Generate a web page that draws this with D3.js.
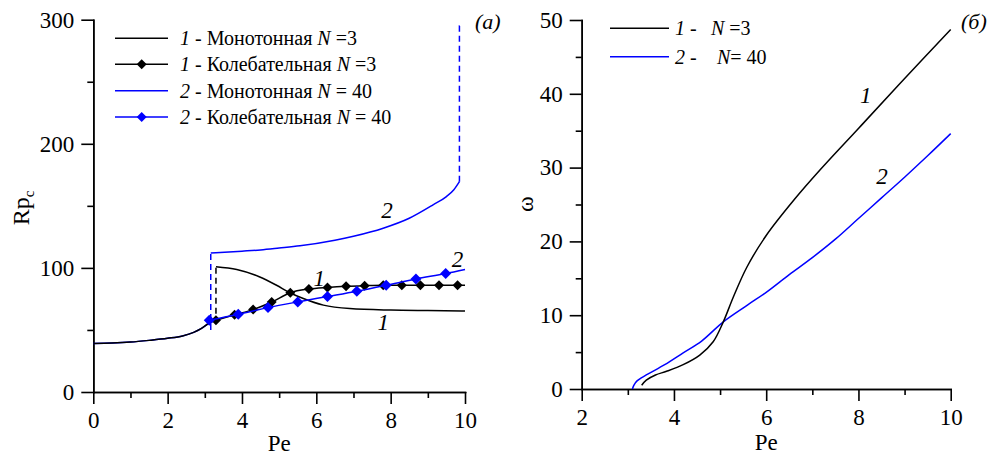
<!DOCTYPE html>
<html>
<head>
<meta charset="utf-8">
<script src="https://cdn.jsdelivr.net/npm/d3@7"></script>
<style>
  html, body { margin: 0; padding: 0; background: #fff; }
</style>
</head>
<body>
<svg id="chart" width="991" height="457"></svg>
<script>
// ---------- Panel (a): critical Rp_c versus Pe ----------
// N = 3, monotonic instability (branch before and after the jump)
const monoN3Low  = [[0,39],[0.5,39.4],[1,40.2],[1.5,41.6],[2,43.3],[2.4,45.2],[2.7,48],[2.9,51],[3.1,55.2],[3.3,58]];
const monoN3High = [[3.3,101],[3.86,98.7],[4.48,92.7],[4.93,86],[5.29,80],[5.65,75.3],[6.19,70],[6.9,67.2],[8,66],[9,65.6],[10,65.3]];
const monoN3Jump = [[3.3,55],[3.3,101]];

// N = 3, oscillatory instability
const oscN3Line    = [[3.3,57.8],[3.8,62.2],[4.3,66.4],[4.8,72.5],[5.3,80],[5.8,83],[6.3,84.3],[6.8,85.2],[7.3,85.7],[7.8,86],[8.3,86],[8.8,86],[9.3,86],[9.8,86],[10,86]];
const oscN3Markers = [[3.3,57.8],[3.8,62.2],[4.3,66.4],[4.8,72.5],[5.3,80],[5.8,83],[6.3,84.3],[6.8,85.2],[7.3,85.7],[7.8,86],[8.3,86],[8.8,86],[9.3,86],[9.8,86]];

// N = 40, monotonic instability
const monoN40Low   = [[0,39],[0.5,39.4],[1,40.2],[1.5,41.6],[2,43.3],[2.4,45.2],[2.7,48],[2.9,51],[3.1,55.2],[3.16,56.5]];
const monoN40High  = [[3.16,112],[4,113.5],[4.5,114.5],[5,116],[5.56,117.8],[6.5,122.3],[7,125.5],[7.8,132],[8.5,140],[9.15,151],[9.5,157.5],[9.7,163],[9.85,169.5]];
const monoN40Jump1 = [[3.16,50],[3.16,112]];
const monoN40Jump2 = [[9.85,169.5],[9.85,295],[9.95,295]];

// N = 40, oscillatory instability
const oscN40Line    = [[3.12,57.8],[3.9,62.6],[4.7,68],[5.5,72.6],[6.3,76.9],[7.09,81.2],[7.88,86],[8.68,91.1],[9.48,95.4],[10,98.7]];
const oscN40Markers = [[3.12,57.8],[3.9,62.6],[4.7,68],[5.5,72.6],[6.3,76.9],[7.09,81.2],[7.88,86],[8.68,91.1],[9.48,95.4]];

const aXTicks = [0,2,4,6,8,10];
const aXMinor = [1,3,5,7,9];
const aYTicks = [0,100,200,300];
const aYMinor = [50,150,250];

// ---------- Panel (б): frequency ω versus Pe ----------
const omegaN3  = [[3.3,0.5],[3.4,1.2],[3.6,1.9],[3.84,2.4],[4.2,3.3],[4.56,4.6],[4.85,6.4],[5.07,9.1],[5.29,12.5],[5.58,16.5],[6.0,20.8],[6.6,25.6],[7.17,29.7],[8.0,35.3],[8.9,41.4],[10,48.7]];
const omegaN40 = [[3.1,0],[3.13,0.5],[3.2,1.1],[3.4,1.9],[3.8,3.3],[4.2,4.9],[4.6,6.5],[5.07,9.1],[5.6,11.4],[6.0,13.1],[6.5,15.5],[7.0,17.8],[7.5,20.3],[8.0,23.1],[8.5,25.9],[9.0,28.7],[9.5,31.6],[10,34.6]];

const bXTicks = [2,4,6,8,10];
const bXMinor = [3,5,7,9];
const bYTicks = [0,10,20,30,40,50];
const bYMinor = [5,15,25,35,45];

const BLUE = "#0000ff", BLACK = "#000000";
const FACES = ["Liberation Serif", "Tinos", "Times New Roman"];
const FONT_STACK = FACES.map(f => `"${f}"`).join(", ");

const svg = d3.select("#chart");

function serif(sel) {
  return sel.style("font-family", FONT_STACK).attr("fill", "#000");
}
function italic(sel) {
  return sel.style("font-style", "italic");
}

const xA = d3.scaleLinear().domain([0,10]).range([93.3,465]);
const yA = d3.scaleLinear().domain([0,300]).range([392,19.7]);
const xB = d3.scaleLinear().domain([2,10]).range([581.7,950.7]);
const yB = d3.scaleLinear().domain([0,50]).range([389,20]);

function drawAxes(x, y, xt, xm, yt, ym) {
  const g = svg.append("g");
  const style = sel => {
    sel.attr("font-family", null).attr("font-size", null);
    sel.selectAll("path,line").attr("stroke", "#000").attr("stroke-width", 1.6);
    sel.selectAll("text").attr("font-size", 23).call(serif);
  };
  g.append("g").attr("transform", `translate(0,${y.range()[0]})`)
    .call(d3.axisBottom(x).tickValues(xm).tickSize(6).tickFormat("").tickSizeOuter(0)).call(style);
  g.append("g").attr("transform", `translate(${x.range()[0]},0)`)
    .call(d3.axisLeft(y).tickValues(ym).tickSize(6).tickFormat("").tickSizeOuter(0)).call(style);
  g.append("g").attr("transform", `translate(0,${y.range()[0]})`)
    .call(d3.axisBottom(x).tickValues(xt).tickSize(12).tickPadding(8).tickFormat(d3.format("d")).tickSizeOuter(0)).call(style);
  g.append("g").attr("transform", `translate(${x.range()[0]},0)`)
    .call(d3.axisLeft(y).tickValues(yt).tickSize(12).tickPadding(7).tickFormat(d3.format("d")).tickSizeOuter(0)).call(style);
  g.selectAll(".domain").attr("stroke-linecap", "square");
}

function path(x, y, data, color, opts = {}) {
  const line = d3.line().x(d => x(d[0])).y(d => y(d[1])).curve(opts.curve || d3.curveMonotoneX);
  svg.append("path").datum(data)
    .attr("d", line)
    .attr("fill", "none")
    .attr("stroke", color)
    .attr("stroke-width", opts.w || 1.5)
    .attr("stroke-dasharray", opts.dash || null);
}

function diamonds(x, y, data, color, r) {
  svg.append("g").selectAll("path").data(data).join("path")
    .attr("transform", d => `translate(${x(d[0])},${y(d[1])})`)
    .attr("d", `M0,${-r}L${r},0L0,${r}L${-r},0Z`)
    .attr("fill", color);
}

// ----- Panel (a) -----
drawAxes(xA, yA, aXTicks, aXMinor, aYTicks, aYMinor);

path(xA, yA, monoN40Low, BLUE);
path(xA, yA, monoN3Low, BLACK);
path(xA, yA, monoN40High, BLUE);
path(xA, yA, monoN40Jump1, BLUE, {curve: d3.curveLinear, dash: "6,4"});
path(xA, yA, monoN40Jump2, BLUE, {curve: d3.curveLinear, dash: "6,4"});
path(xA, yA, monoN3Jump, BLACK, {curve: d3.curveLinear, dash: "6,4"});
path(xA, yA, monoN3High, BLACK);
path(xA, yA, oscN3Line, BLACK);
diamonds(xA, yA, oscN3Markers, BLACK, 5);
path(xA, yA, oscN40Line, BLUE);
diamonds(xA, yA, oscN40Markers, BLUE, 5.5);

// curve numbers inside panel (a)
const numA = [["1", 6.08, 91.6], ["1", 7.8, 56.4], ["2", 7.9, 146.5], ["2", 9.8, 107.5]];
svg.append("g").selectAll("text").data(numA).join("text")
  .attr("x", d => xA(d[1])).attr("y", d => yA(d[2]) + 8)
  .attr("text-anchor", "middle")
  .attr("font-size", 23).text(d => d[0]).call(serif).call(italic);

// axis titles (a)
svg.append("text").attr("x", (xA.range()[0] + xA.range()[1]) / 2).attr("y", 451)
  .attr("text-anchor", "middle").attr("font-size", 23).text("Pe").call(serif);
const rp = svg.append("text").attr("transform", "translate(29,208) rotate(-90)")
  .attr("text-anchor", "middle").attr("font-size", 24).call(serif);
rp.append("tspan").text("Rp");
rp.append("tspan").attr("font-size", 15).attr("dy", 5).text("c");
svg.append("text").attr("x", 475).attr("y", 29).attr("font-size", 22).text("(a)").call(serif).call(italic);

// legend (a)
const legA = [
  {num: "1", kind: " - Монотонная ", n: " =3", color: BLACK, marker: false},
  {num: "1", kind: " - Колебательная ", n: " =3", color: BLACK, marker: true},
  {num: "2", kind: " - Монотонная ", n: " = 40", color: BLUE, marker: false},
  {num: "2", kind: " - Колебательная ", n: " = 40", color: BLUE, marker: true}
];
const legRowsA = [38.3, 64.3, 90.7, 117];
legA.forEach((d, i) => {
  const yy = legRowsA[i];
  svg.append("line").attr("x1", 115).attr("x2", 168).attr("y1", yy).attr("y2", yy)
    .attr("stroke", d.color).attr("stroke-width", 1.5);
  if (d.marker) {
    svg.append("path").attr("transform", `translate(141.7,${yy})`)
      .attr("d", "M0,-5L5,0L0,5L-5,0Z").attr("fill", d.color);
  }
  const t = svg.append("text").attr("x", 180).attr("y", yy + 7).attr("font-size", 20)
    .style("white-space", "pre").call(serif);
  t.append("tspan").text(d.num).call(italic);
  t.append("tspan").text(d.kind);
  t.append("tspan").text("N").call(italic);
  t.append("tspan").text(d.n);
});

// ----- Panel (б) -----
drawAxes(xB, yB, bXTicks, bXMinor, bYTicks, bYMinor);
path(xB, yB, omegaN40, BLUE, {curve: d3.curveCatmullRom});
path(xB, yB, omegaN3, BLACK, {curve: d3.curveCatmullRom});

const numB = [["1", 8.16, 39.8], ["2", 8.51, 28.8]];
svg.append("g").selectAll("text").data(numB).join("text")
  .attr("x", d => xB(d[1])).attr("y", d => yB(d[2]) + 8)
  .attr("text-anchor", "middle")
  .attr("font-size", 23).text(d => d[0]).call(serif).call(italic);

svg.append("text").attr("x", (xB.range()[0] + xB.range()[1]) / 2).attr("y", 450)
  .attr("text-anchor", "middle").attr("font-size", 23).text("Pe").call(serif);
svg.append("text").attr("transform", "translate(533,204) rotate(-90)")
  .attr("text-anchor", "middle").attr("font-size", 24).text("ω").call(serif);
svg.append("text").attr("x", 961).attr("y", 29).attr("font-size", 22).text("(б)").call(serif).call(italic);

// legend (б)
const legB = [
  {num: "1", nx: 711, n: " =3", color: BLACK},
  {num: "2", nx: 717, n: "= 40", color: BLUE}
];
const legRowsB = [28.3, 56.7];
legB.forEach((d, i) => {
  const yy = legRowsB[i];
  svg.append("line").attr("x1", 610).attr("x2", 669).attr("y1", yy).attr("y2", yy)
    .attr("stroke", d.color).attr("stroke-width", 1.5);
  const t = svg.append("text").attr("y", yy + 7).attr("font-size", 20).style("white-space", "pre").call(serif);
  t.append("tspan").attr("x", 675).text(d.num).call(italic);
  t.append("tspan").text(" -");
  t.append("tspan").attr("x", d.nx).text("N").call(italic);
  t.append("tspan").text(d.n);
});

// re-apply the face once the font set reports ready, so text is laid out with it
if (document.fonts && document.fonts.load) {
  Promise.all([
    document.fonts.load(`20px "${FACES[0]}"`),
    document.fonts.load(`italic 20px "${FACES[0]}"`)
  ]).then(() => svg.selectAll("text").style("font-family", FONT_STACK)).catch(() => {});
}
</script>
</body>
</html>
